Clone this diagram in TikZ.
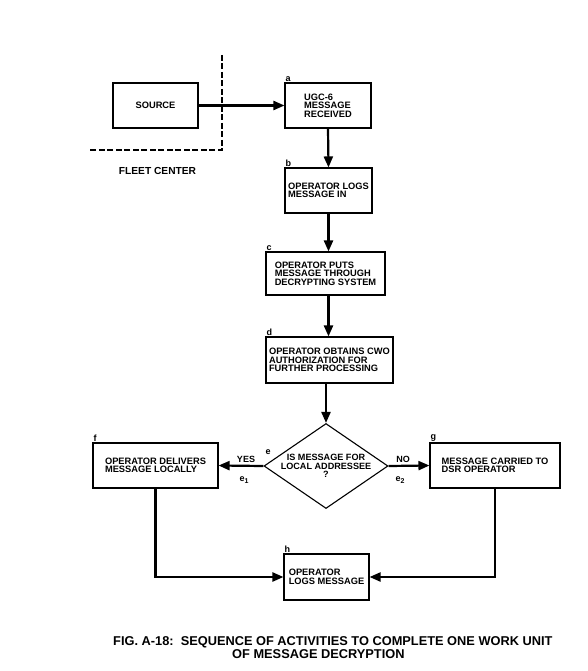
\documentclass[tikz,border=0pt]{standalone}
\usepackage{fontspec}
\setmainfont{Liberation Sans}
\usetikzlibrary{shapes.geometric,arrows.meta}
\begin{document}
\begin{tikzpicture}[x=1pt,y=-1pt,
  box/.style={draw, line width=1.1pt, font=\fontsize{9.3}{8.5}\selectfont\bfseries, align=left, inner sep=0pt},
  decision/.style={draw, diamond, line width=1.1pt, font=\fontsize{9.1}{8.3}\selectfont\bfseries, align=center, inner sep=0pt, aspect=1.46, minimum width=124pt, minimum height=85pt},
  lab/.style={font=\fontsize{9}{9}\selectfont\bfseries, inner sep=1pt, anchor=south west},
  elab/.style={font=\fontsize{9}{9}\selectfont\bfseries, inner sep=0pt},
  conn/.style={line width=2.2pt, -{Triangle[length=11pt,width=9pt]}},
  boundary/.style={line width=1.8pt, dash pattern=on 6pt off 2.5pt},
]
\useasboundingbox (0,0) rectangle (587,671);

% boxes
\node[box, align=center, minimum width=85pt, minimum height=45pt] (src) at (155.5,105.5) {SOURCE};
\node[box, minimum width=86pt, minimum height=45pt] (a) at (328,105.5) {UGC-6\\MESSAGE\\RECEIVED};
\node[box, minimum width=87pt, minimum height=45pt] (b) at (328.5,190.5) {OPERATOR LOGS\\MESSAGE IN};
\node[box, minimum width=119pt, minimum height=43pt] (c) at (325.5,273.5) {OPERATOR PUTS\\MESSAGE THROUGH\\DECRYPTING SYSTEM};
\node[box, minimum width=127pt, minimum height=46pt] (d) at (329.5,360) {OPERATOR OBTAINS CWO\\AUTHORIZATION FOR\\FURTHER PROCESSING};
\node[decision] (e) at (326,466) {IS MESSAGE FOR\\LOCAL ADDRESSEE\\?};
\node[box, minimum width=125pt, minimum height=45pt] (f) at (155.5,465.5) {OPERATOR DELIVERS\\MESSAGE LOCALLY};
\node[box, minimum width=130pt, minimum height=45pt] (g) at (495,465.5) {MESSAGE CARRIED TO\\DSR OPERATOR};
\node[box, minimum width=85pt, minimum height=46pt] (h) at (326.5,577) {OPERATOR\\LOGS MESSAGE};

% letter labels
\node[lab] (la) at (a.north west) {a};
\node[lab] (lb) at (b.north west) {b};
\node[lab] (lc) at (c.north west) {c};
\node[lab] (ld) at (d.north west) {d};
\node[lab] (lf) at (f.north west) {f};
\node[lab] (lg) at (g.north west) {g};
\node[lab] (lh) at (h.north west) {h};
\node[elab] (le) at (268,452) {e};

% fleet center boundary
\coordinate (dtop) at (222,55);
\coordinate (dcorner) at (222,150);
\coordinate (dleft) at (90,150);
\draw[boundary] (dtop) -- (dcorner) -- (dleft);
\node[font=\fontsize{10.2}{10}\selectfont\bfseries, inner sep=0pt] (fleet) at (157.5,171) {FLEET CENTER};

% connectors
\draw[conn] (src.east) -- (a.west);
\draw[conn] (a.south) -- (b.north);
\draw[conn] (b.south) -- (b.south |- c.north);
\draw[conn] (b.south |- c.south) -- (b.south |- d.north);
\draw[conn] (e.north |- d.south) -- (e.north);
\draw[conn] (e.west) -- (f.east);
\draw[conn] (e.east) -- (g.west);
\draw[conn] (f.south) |- (h.west);
\draw[conn] (g.south) |- (h.east);

% branch labels
\node[elab] (yes) at (246,459) {YES};
\node[elab] (no) at (403,459) {NO};
\node[elab] (e1) at (244,480) {e\raisebox{-2.5pt}{\fontsize{7}{7}\selectfont\bfseries 1}};
\node[elab] (e2) at (400,480) {e\raisebox{-2.5pt}{\fontsize{7}{7}\selectfont\bfseries 2}};

% caption
\node[font=\fontsize{12.8}{13}\selectfont\bfseries, align=left, anchor=north west, inner sep=0pt] (cap) at (113,636)
  {FIG. A-18:\ \ SEQUENCE OF ACTIVITIES TO COMPLETE ONE WORK UNIT\\\hspace*{119pt}OF MESSAGE DECRYPTION};
\end{tikzpicture}
\end{document}
